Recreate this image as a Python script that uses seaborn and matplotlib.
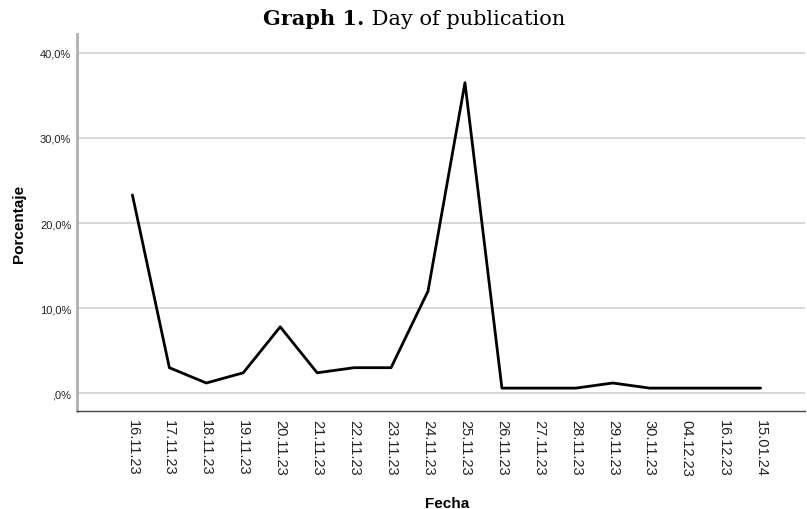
import matplotlib
matplotlib.use('Agg')
from matplotlib import pyplot as plt
from matplotlib.ticker import FuncFormatter
import pandas as pd
import seaborn as sns


dates = ['16.11.23', '17.11.23', '18.11.23', '19.11.23', '20.11.23', '21.11.23',
         '22.11.23', '23.11.23', '24.11.23', '25.11.23', '26.11.23', '27.11.23',
         '28.11.23', '29.11.23', '30.11.23', '04.12.23', '16.12.23', '15.01.24']
percent = [23.3, 3.0, 1.2, 2.4, 7.8, 2.4, 3.0, 3.0, 12.0, 36.5,
           0.6, 0.6, 0.6, 1.2, 0.6, 0.6, 0.6, 0.6]
y_ticks = [0, 10, 20, 30, 40]


def pct_label(v, pos):
    s = f'{v:.1f}'.replace('.', ',')
    if s.startswith('0'):
        s = s[1:]
    return s + '%'


sns.set_style('white')
plt.rcParams['font.family'] = ['Liberation Sans', 'DejaVu Sans']

df = pd.DataFrame({'Fecha': dates, 'Porcentaje': percent})

fig = plt.figure(figsize=(8.07, 5.10), dpi=100)
ax = fig.add_axes([0.0954, 0.192, 0.902, 0.739])

sns.lineplot(data=df, x='Fecha', y='Porcentaje', sort=False, color='black',
             linewidth=2.0, ax=ax)

ax.set_xlim(-1.5, len(dates) - 1 + 1.2)
ax.set_ylim(-2.1, 42.2)
ax.set_yticks(y_ticks)
ax.yaxis.set_major_formatter(FuncFormatter(pct_label))
ax.grid(axis='y', color='#d2d2d2', linewidth=1.2)
ax.grid(axis='x', visible=False)
ax.tick_params(axis='y', labelsize=8, length=0, pad=4, labelcolor='#222222')
ax.tick_params(axis='x', labelsize=10.5, length=0, pad=6, labelrotation=270,
               labelcolor='#222222')

for side in ['top', 'right']:
    ax.spines[side].set_visible(False)
ax.spines['left'].set_color('#b0b0b0')
ax.spines['left'].set_linewidth(2.0)
ax.spines['bottom'].set_color('#444444')
ax.spines['bottom'].set_linewidth(1.0)

ax.set_xlabel('Fecha', fontsize=11, fontweight='bold', labelpad=12, color='black')
ax.xaxis.set_label_coords(0.508, -0.225)
ax.set_ylabel('Porcentaje', fontsize=11, fontweight='bold', labelpad=10, color='black')

# title: bold prefix + regular text, centered together
fig.canvas.draw()
renderer = fig.canvas.get_renderer()
t1 = fig.text(0, 0.951, 'Graph 1.', fontsize=15, fontweight='bold',
              family='DejaVu Serif', va='baseline', color='black')
t2 = fig.text(0, 0.951, ' Day of publication', fontsize=15,
              family='DejaVu Serif', va='baseline', color='black')
w1 = t1.get_window_extent(renderer).width / fig.bbox.width
w2 = t2.get_window_extent(renderer).width / fig.bbox.width
x0 = 0.513 - (w1 + w2) / 2
t1.set_x(x0)
t2.set_x(x0 + w1)

fig.savefig('out.png', dpi=100)
